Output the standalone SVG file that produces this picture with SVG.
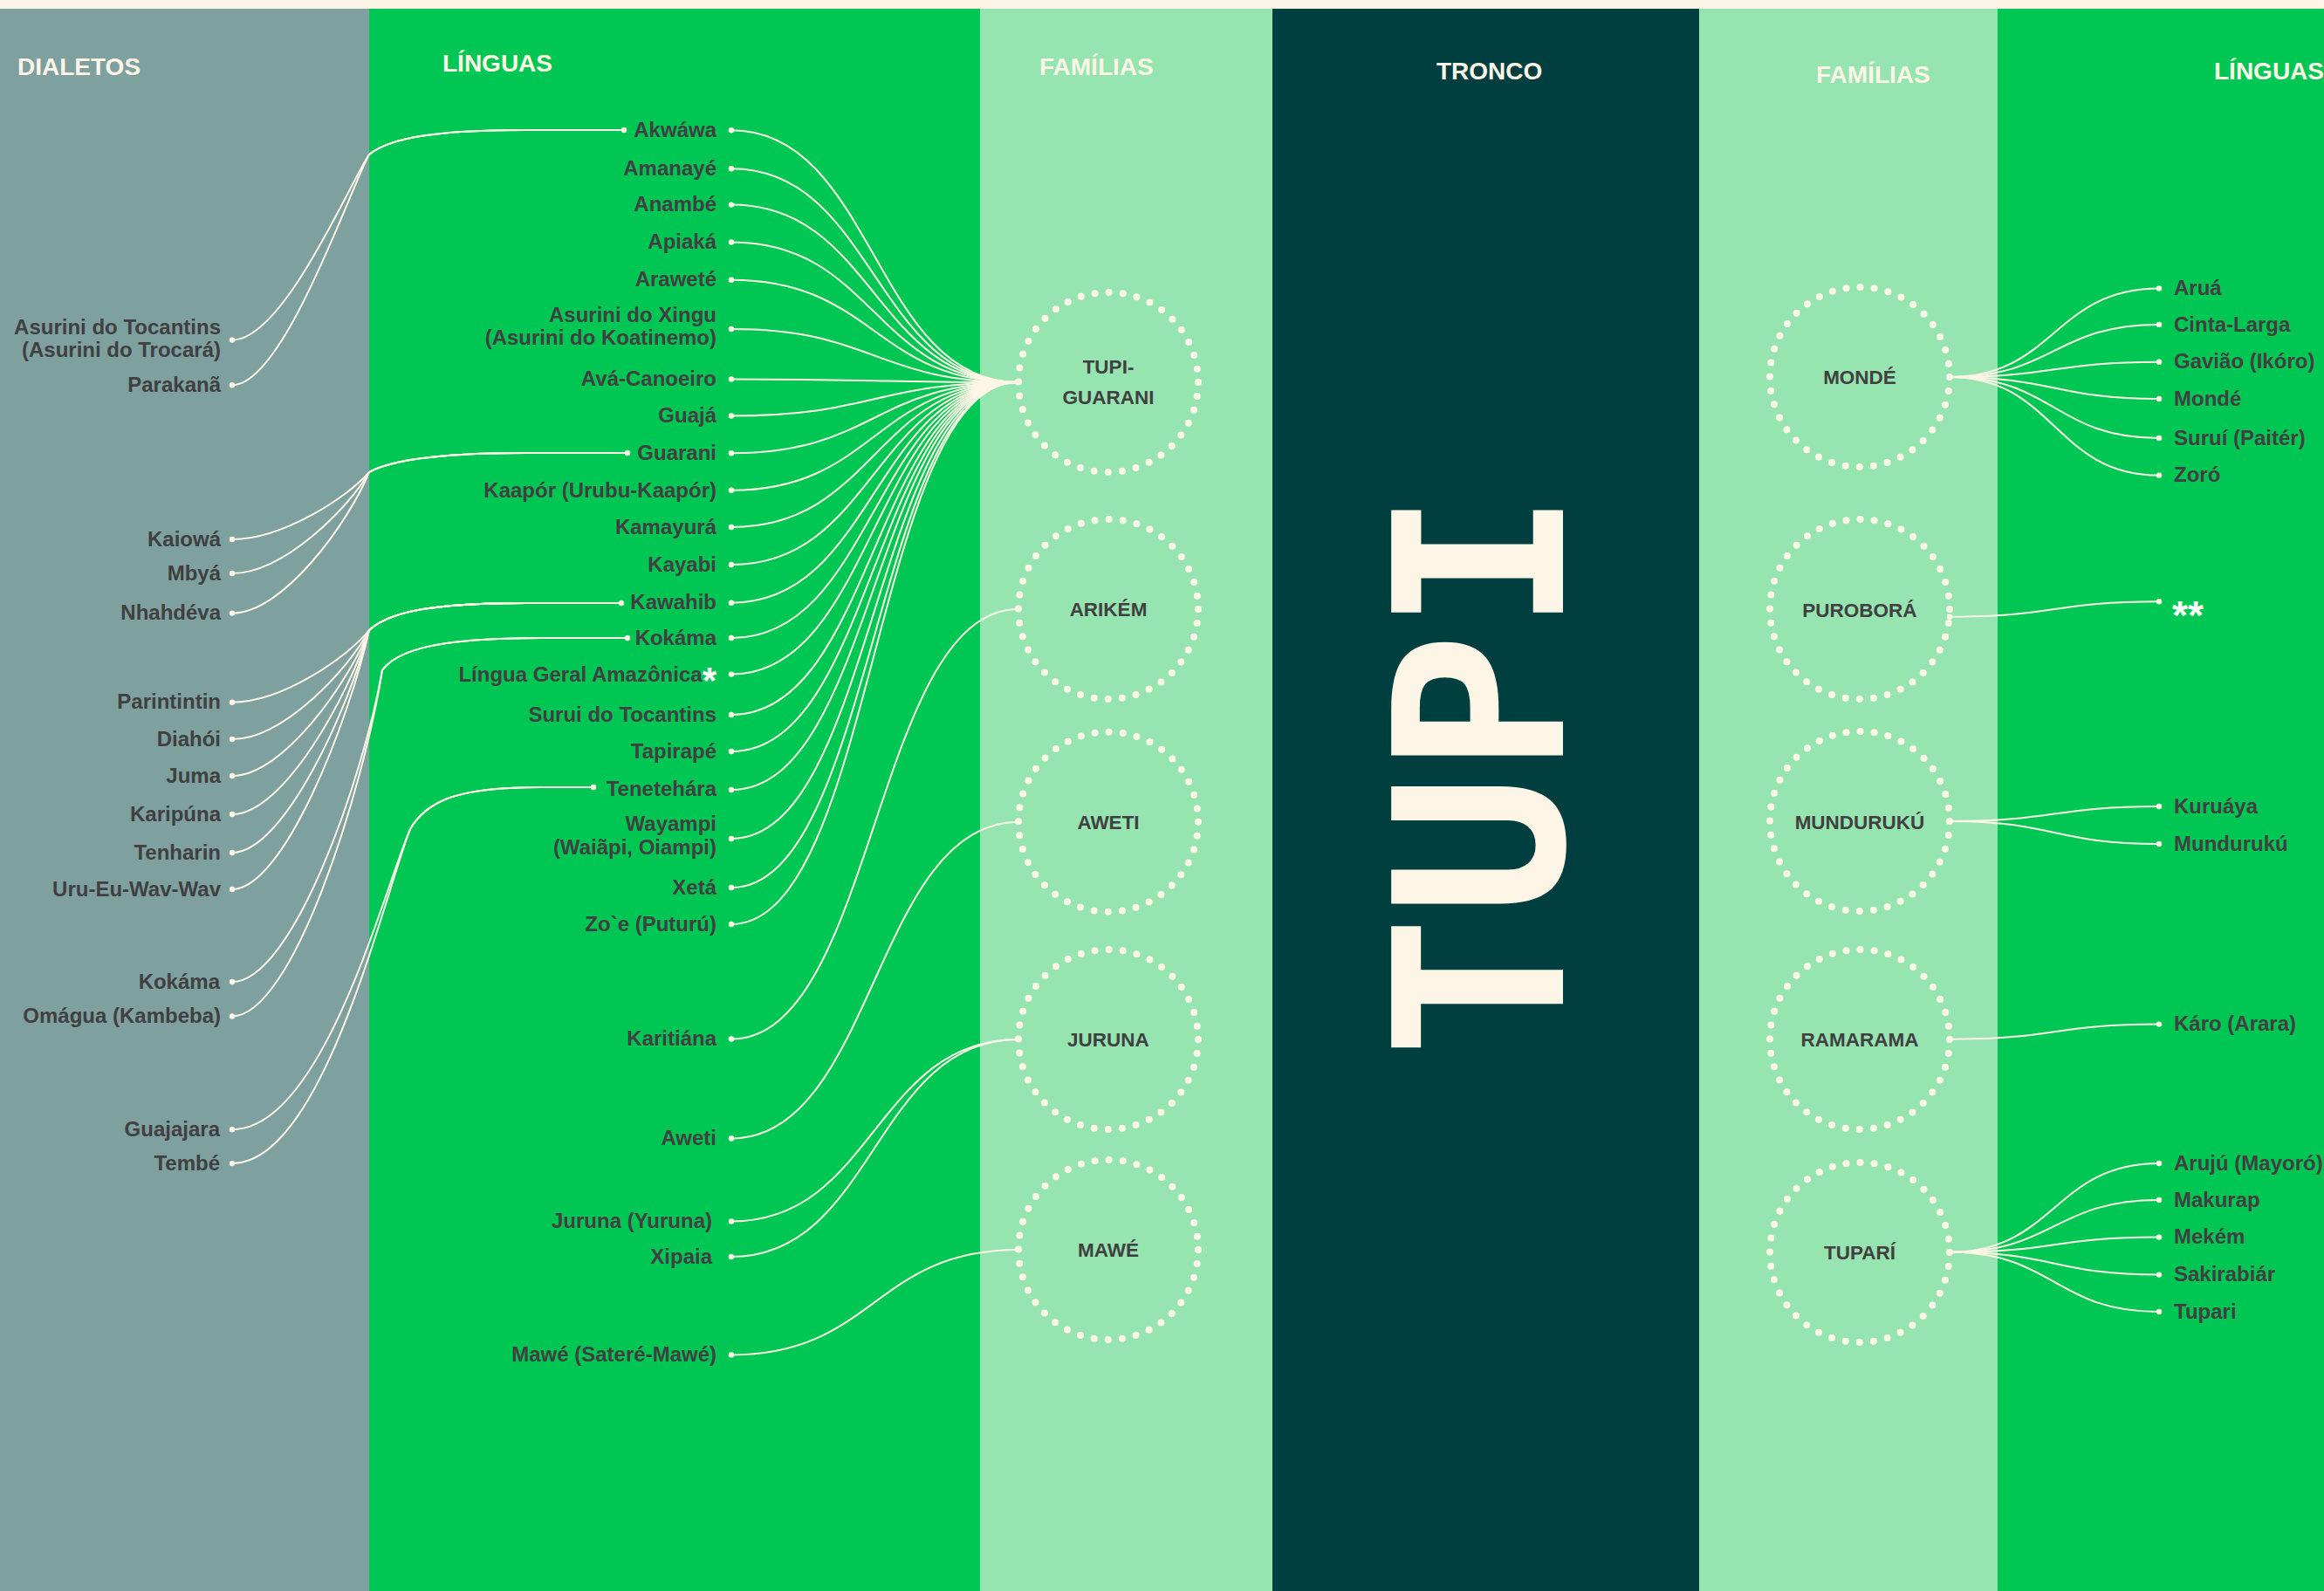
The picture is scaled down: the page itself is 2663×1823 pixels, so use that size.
<svg xmlns="http://www.w3.org/2000/svg" width="2663" height="1823" viewBox="0 0 2663 1823">
<style>
.hdr{font-family:"Liberation Sans",Arial,sans-serif;font-weight:700;font-size:28px;fill:#FDF6E6}
.lbl{font-family:"Liberation Sans",Arial,sans-serif;font-weight:700;font-size:24px;fill:#403F41}
.end{text-anchor:end}
.fam{font-family:"Liberation Sans",Arial,sans-serif;font-weight:700;font-size:22.5px;fill:#403F41;text-anchor:middle}
.ring{fill:none;stroke:#FDF6E6;stroke-width:8;stroke-linecap:round;stroke-dasharray:0 16.18}
.link{fill:none;stroke:#FDF6E6;stroke-width:2}
.dot{fill:#FDF6E6}
.ast{fill:#FFFFFF;font-size:42px}
.ast2{font-family:"Liberation Sans",Arial,sans-serif;font-weight:700;font-size:46px;fill:#FFFFFF}
.title{font-family:"DejaVu Sans Mono",monospace;font-weight:700;font-size:270px;fill:#FDF6E6}
</style>
<defs>
<circle id="d" r="3.2" class="dot"/>
</defs>
<rect x="0" y="0" width="2663" height="1823" fill="#FDF6E6"/>
<rect x="0" y="10" width="423" height="1813" fill="#7EA09E"/>
<rect x="423" y="10" width="700" height="1813" fill="#00C753"/>
<rect x="1123" y="10" width="335" height="1813" fill="#96E4B0"/>
<rect x="1458" y="10" width="489" height="1813" fill="#003F40"/>
<rect x="1947" y="10" width="342" height="1813" fill="#96E4B0"/>
<rect x="2289" y="10" width="374" height="1813" fill="#00C753"/>

<g id="headers">
<text class="hdr" x="20" y="86">DIALETOS</text>
<text class="hdr" x="507" y="81.5">LÍNGUAS</text>
<text class="hdr" x="1191" y="86">FAMÍLIAS</text>
<text class="hdr" x="1646" y="90.6">TRONCO</text>
<text class="hdr" x="2081" y="95">FAMÍLIAS</text>
<text class="hdr" x="2537" y="90.6">LÍNGUAS</text>
</g>

<g id="tronco-tupi">
<text class="title" transform="translate(1791,1212) rotate(-90)" x="0" y="0">TUPI</text>
</g>

<g id="connectors">
<!-- dialects to languages -->
<path class="link" d="M266,389.6 C325,389.6 401,208.8 423,177 C448,157 503,149 603,149 L715,149"/>
<path class="link" d="M266,441.3 C325,441.3 401,216.6 423,177 C448,157 503,149 603,149 L715,149"/>
<path class="link" d="M266,618 C325,618 400,568 423,541 C448,527 503,519 603,519 L719,519"/>
<path class="link" d="M266,657 C325,657 400,581.6 423,541 C448,527 503,519 603,519 L719,519"/>
<path class="link" d="M266,702.6 C325,702.6 400,597.6 423,541 C448,527 503,519 603,519 L719,519"/>
<path class="link" d="M266,804.7 C325,804.7 400,751 423,722 C448,699 503,691 603,691 L712,691"/>
<path class="link" d="M266,847 C325,847 400,765.8 423,722 C448,699 503,691 603,691 L712,691"/>
<path class="link" d="M266,889 C325,889 400,780.5 423,722 C448,699 503,691 603,691 L712,691"/>
<path class="link" d="M266,933 C325,933 400,795.9 423,722 C448,699 503,691 603,691 L712,691"/>
<path class="link" d="M266,977 C325,977 400,811.3 423,722 C448,699 503,691 603,691 L712,691"/>
<path class="link" d="M266,1019 C325,1019 400,826 423,722 C448,699 503,691 603,691 L712,691"/>
<path class="link" d="M266,1125 C335,1125 416,893 438,768 C455,745 500,731 620,731 L719,731"/>
<path class="link" d="M266,1164.5 C335,1164.5 416,906.8 438,768 C455,745 500,731 620,731 L719,731"/>
<path class="link" d="M266,1294.2 C370,1294.2 440,1019 470,950 C490,915 530,902 620,902 L680,902"/>
<path class="link" d="M266,1333.1 C370,1333.1 440,1026.6 470,950 C490,915 530,902 620,902 L680,902"/>
<!-- languages to TUPI-GUARANI -->
<path class="link" d="M838,149.3 C1002,149.3 1002,438 1167,438"/>
<path class="link" d="M838,193.3 C1002,193.3 1002,438 1167,438"/>
<path class="link" d="M838,234.6 C1002,234.6 1002,438 1167,438"/>
<path class="link" d="M838,277.5 C1002,277.5 1002,438 1167,438"/>
<path class="link" d="M838,320.7 C1002,320.7 1002,438 1167,438"/>
<path class="link" d="M838,377 C1002,377 1002,438 1167,438"/>
<path class="link" d="M838,434.4 C1002,434.4 1002,438 1167,438"/>
<path class="link" d="M838,476.5 C1002,476.5 1002,438 1167,438"/>
<path class="link" d="M838,519.3 C1002,519.3 1002,438 1167,438"/>
<path class="link" d="M838,561.8 C1002,561.8 1002,438 1167,438"/>
<path class="link" d="M838,604 C1002,604 1002,438 1167,438"/>
<path class="link" d="M838,647 C1002,647 1002,438 1167,438"/>
<path class="link" d="M838,690.7 C1002,690.7 1002,438 1167,438"/>
<path class="link" d="M838,731 C1002,731 1002,438 1167,438"/>
<path class="link" d="M838,772.6 C1002,772.6 1002,438 1167,438"/>
<path class="link" d="M838,819 C1002,819 1002,438 1167,438"/>
<path class="link" d="M838,861 C1002,861 1002,438 1167,438"/>
<path class="link" d="M838,905 C1002,905 1002,438 1167,438"/>
<path class="link" d="M838,961 C1002,961 1002,438 1167,438"/>
<path class="link" d="M838,1017 C1002,1017 1002,438 1167,438"/>
<path class="link" d="M838,1059 C1002,1059 1002,438 1167,438"/>
<!-- other left families -->
<path class="link" d="M838,1190.5 C1002,1190.5 1002,698 1167,698"/>
<path class="link" d="M838,1304.5 C1002,1304.5 1002,941.7 1167,941.7"/>
<path class="link" d="M838,1399.4 C1002,1399.4 1002,1191 1167,1191"/>
<path class="link" d="M838,1440 C1002,1440 1002,1191 1167,1191"/>
<path class="link" d="M838,1552.4 C1002,1552.4 1002,1432 1167,1432"/>
<!-- right families to languages -->
<path class="link" d="M2234,432 C2354,432 2354,330.4 2474,330.4"/>
<path class="link" d="M2234,432 C2354,432 2354,371.9 2474,371.9"/>
<path class="link" d="M2234,432 C2354,432 2354,414.7 2474,414.7"/>
<path class="link" d="M2234,432 C2354,432 2354,457 2474,457"/>
<path class="link" d="M2234,432 C2354,432 2354,502 2474,502"/>
<path class="link" d="M2234,432 C2354,432 2354,544.6 2474,544.6"/>
<path class="link" d="M2234,706.7 C2354,706.7 2354,689.3 2474,689.3"/>
<path class="link" d="M2234,941 C2354,941 2354,924 2474,924"/>
<path class="link" d="M2234,941 C2354,941 2354,967 2474,967"/>
<path class="link" d="M2234,1190.8 C2354,1190.8 2354,1173.6 2474,1173.6"/>
<path class="link" d="M2234,1434.8 C2354,1434.8 2354,1333 2474,1333"/>
<path class="link" d="M2234,1434.8 C2354,1434.8 2354,1375 2474,1375"/>
<path class="link" d="M2234,1434.8 C2354,1434.8 2354,1417.6 2474,1417.6"/>
<path class="link" d="M2234,1434.8 C2354,1434.8 2354,1460.6 2474,1460.6"/>
<path class="link" d="M2234,1434.8 C2354,1434.8 2354,1503 2474,1503"/>
</g>

<!-- Dialects -->
<g id="dialetos">
<g id="d-asurini-tocantins"><text class="lbl end" x="253" y="382.7">Asurini do Tocantins</text><text class="lbl end" x="253" y="409">(Asurini do Trocará)</text><use href="#d" x="266" y="389.6"/></g>
<g id="d-parakana"><text class="lbl end" x="253" y="449">Parakanã</text><use href="#d" x="266" y="441.3"/></g>
<g id="d-kaiowa"><text class="lbl end" x="253" y="625.5">Kaiowá</text><use href="#d" x="266" y="618"/></g>
<g id="d-mbya"><text class="lbl end" x="253" y="664.5">Mbyá</text><use href="#d" x="266" y="657"/></g>
<g id="d-nhahdeva"><text class="lbl end" x="253" y="710">Nhahdéva</text><use href="#d" x="266" y="702.6"/></g>
<g id="d-parintintin"><text class="lbl end" x="253" y="812">Parintintin</text><use href="#d" x="266" y="804.7"/></g>
<g id="d-diahoi"><text class="lbl end" x="253" y="854.5">Diahói</text><use href="#d" x="266" y="847"/></g>
<g id="d-juma"><text class="lbl end" x="253" y="896.5">Juma</text><use href="#d" x="266" y="889"/></g>
<g id="d-karipuna"><text class="lbl end" x="253" y="940.5">Karipúna</text><use href="#d" x="266" y="933"/></g>
<g id="d-tenharin"><text class="lbl end" x="253" y="984.5">Tenharin</text><use href="#d" x="266" y="977"/></g>
<g id="d-uru"><text class="lbl end" x="253" y="1026.5">Uru-Eu-Wav-Wav</text><use href="#d" x="266" y="1019"/></g>
<g id="d-kokama"><text class="lbl end" x="252" y="1132.5">Kokáma</text><use href="#d" x="266" y="1125"/></g>
<g id="d-omagua"><text class="lbl end" x="253" y="1172">Omágua (Kambeba)</text><use href="#d" x="266" y="1164.5"/></g>
<g id="d-guajajara"><text class="lbl end" x="252" y="1301.7">Guajajara</text><use href="#d" x="266" y="1294.2"/></g>
<g id="d-tembe"><text class="lbl end" x="252" y="1340.6">Tembé</text><use href="#d" x="266" y="1333.1"/></g>
</g>

<!-- Left languages -->
<g id="linguas-esq">
<g id="l-akwawa"><text class="lbl end" x="821" y="157">Akwáwa</text><use href="#d" x="715" y="149"/><use href="#d" x="838" y="149.3"/></g>
<g id="l-amanaye"><text class="lbl end" x="821" y="201">Amanayé</text><use href="#d" x="838" y="193.3"/></g>
<g id="l-anambe"><text class="lbl end" x="821" y="242">Anambé</text><use href="#d" x="838" y="234.6"/></g>
<g id="l-apiaka"><text class="lbl end" x="821" y="285">Apiaká</text><use href="#d" x="838" y="277.5"/></g>
<g id="l-arawete"><text class="lbl end" x="821" y="328">Araweté</text><use href="#d" x="838" y="320.7"/></g>
<g id="l-asurini-xingu"><text class="lbl end" x="821" y="369">Asurini do Xingu</text><text class="lbl end" x="821" y="395">(Asurini do Koatinemo)</text><use href="#d" x="838" y="377"/></g>
<g id="l-ava"><text class="lbl end" x="821" y="442">Avá-Canoeiro</text><use href="#d" x="838" y="434.4"/></g>
<g id="l-guaja"><text class="lbl end" x="821" y="484">Guajá</text><use href="#d" x="838" y="476.5"/></g>
<g id="l-guarani"><text class="lbl end" x="821" y="527">Guarani</text><use href="#d" x="719" y="519"/><use href="#d" x="838" y="519.3"/></g>
<g id="l-kaapor"><text class="lbl end" x="821" y="569.5">Kaapór (Urubu-Kaapór)</text><use href="#d" x="838" y="561.8"/></g>
<g id="l-kamayura"><text class="lbl end" x="821" y="611.5">Kamayurá</text><use href="#d" x="838" y="604"/></g>
<g id="l-kayabi"><text class="lbl end" x="821" y="654.5">Kayabi</text><use href="#d" x="838" y="647"/></g>
<g id="l-kawahib"><text class="lbl end" x="821" y="698">Kawahib</text><use href="#d" x="712" y="691"/><use href="#d" x="838" y="690.7"/></g>
<g id="l-kokama"><text class="lbl end" x="821" y="738.5">Kokáma</text><use href="#d" x="719" y="731"/><use href="#d" x="838" y="731"/></g>
<g id="l-lingua-geral"><text class="lbl end" x="821" y="780.5">Língua Geral Amazônica<tspan class="ast" dy="13">*</tspan></text><use href="#d" x="838" y="772.6"/></g>
<g id="l-surui-tocantins"><text class="lbl end" x="821" y="826.5">Surui do Tocantins</text><use href="#d" x="838" y="819"/></g>
<g id="l-tapirape"><text class="lbl end" x="821" y="868.5">Tapirapé</text><use href="#d" x="838" y="861"/></g>
<g id="l-tenetehara"><text class="lbl end" x="821" y="912">Tenetehára</text><use href="#d" x="680" y="902"/><use href="#d" x="838" y="905"/></g>
<g id="l-wayampi"><text class="lbl end" x="821" y="952">Wayampi</text><text class="lbl end" x="821" y="979">(Waiãpi, Oiampi)</text><use href="#d" x="838" y="961"/></g>
<g id="l-xeta"><text class="lbl end" x="821" y="1024.5">Xetá</text><use href="#d" x="838" y="1017"/></g>
<g id="l-zoe"><text class="lbl end" x="821" y="1066.5">Zo`e (Puturú)</text><use href="#d" x="838" y="1059"/></g>
<g id="l-karitiana"><text class="lbl end" x="821" y="1198">Karitiána</text><use href="#d" x="838" y="1190.5"/></g>
<g id="l-aweti"><text class="lbl end" x="821" y="1312">Aweti</text><use href="#d" x="838" y="1304.5"/></g>
<g id="l-juruna"><text class="lbl end" x="816" y="1407">Juruna (Yuruna)</text><use href="#d" x="838" y="1399.4"/></g>
<g id="l-xipaia"><text class="lbl end" x="816" y="1447.5">Xipaia</text><use href="#d" x="838" y="1440"/></g>
<g id="l-mawe"><text class="lbl end" x="821" y="1560">Mawé (Sateré-Mawé)</text><use href="#d" x="838" y="1552.4"/></g>
</g>

<!-- Left families -->
<g id="familias-esq">
<g id="f-tupi-guarani"><circle class="ring" cx="1270" cy="438" r="103"/><text class="fam" x="1270" y="428">TUPI-</text><text class="fam" x="1270" y="463">GUARANI</text></g>
<g id="f-arikem"><circle class="ring" cx="1270" cy="698" r="103"/><text class="fam" x="1270" y="706">ARIKÉM</text></g>
<g id="f-aweti"><circle class="ring" cx="1270" cy="941.7" r="103"/><text class="fam" x="1270" y="949.7">AWETI</text></g>
<g id="f-juruna"><circle class="ring" cx="1270" cy="1191" r="103"/><text class="fam" x="1270" y="1199">JURUNA</text></g>
<g id="f-mawe"><circle class="ring" cx="1270" cy="1432" r="103"/><text class="fam" x="1270" y="1440">MAWÉ</text></g>
</g>

<!-- Right families -->
<g id="familias-dir">
<g id="f-monde"><circle class="ring" cx="2131" cy="432" r="103"/><text class="fam" x="2131" y="440">MONDÉ</text></g>
<g id="f-purobora"><circle class="ring" cx="2131" cy="698" r="103"/><text class="fam" x="2131" y="706.7">PUROBORÁ</text><use href="#d" x="2234" y="706.7"/></g>
<g id="f-munduruku"><circle class="ring" cx="2131" cy="941" r="103"/><text class="fam" x="2131" y="949.5">MUNDURUKÚ</text></g>
<g id="f-ramarama"><circle class="ring" cx="2131" cy="1191" r="103"/><text class="fam" x="2131" y="1199">RAMARAMA</text></g>
<g id="f-tupari"><circle class="ring" cx="2131" cy="1435" r="103"/><text class="fam" x="2131" y="1443">TUPARÍ</text></g>
</g>

<!-- Right languages -->
<g id="linguas-dir">
<g id="r-arua"><use href="#d" x="2474" y="330.4"/><text class="lbl" x="2491" y="338">Aruá</text></g>
<g id="r-cinta-larga"><use href="#d" x="2474" y="371.9"/><text class="lbl" x="2491" y="379.5">Cinta-Larga</text></g>
<g id="r-gaviao"><use href="#d" x="2474" y="414.7"/><text class="lbl" x="2491" y="422.3">Gavião (Ikóro)</text></g>
<g id="r-monde"><use href="#d" x="2474" y="457"/><text class="lbl" x="2491" y="464.6">Mondé</text></g>
<g id="r-surui"><use href="#d" x="2474" y="502"/><text class="lbl" x="2491" y="509.6">Suruí (Paitér)</text></g>
<g id="r-zoro"><use href="#d" x="2474" y="544.6"/><text class="lbl" x="2491" y="552.2">Zoró</text></g>
<g id="r-purobora"><use href="#d" x="2474" y="689.3"/><text class="ast2" x="2489" y="721">**</text></g>
<g id="r-kuruaya"><use href="#d" x="2474" y="924"/><text class="lbl" x="2491" y="931.6">Kuruáya</text></g>
<g id="r-munduruku"><use href="#d" x="2474" y="967"/><text class="lbl" x="2491" y="974.6">Mundurukú</text></g>
<g id="r-karo"><use href="#d" x="2474" y="1173.6"/><text class="lbl" x="2491" y="1181.2">Káro (Arara)</text></g>
<g id="r-aruju"><use href="#d" x="2474" y="1333"/><text class="lbl" x="2491" y="1340.6">Arujú (Mayoró)</text></g>
<g id="r-makurap"><use href="#d" x="2474" y="1375"/><text class="lbl" x="2491" y="1382.6">Makurap</text></g>
<g id="r-mekem"><use href="#d" x="2474" y="1417.6"/><text class="lbl" x="2491" y="1425.2">Mekém</text></g>
<g id="r-sakirabiar"><use href="#d" x="2474" y="1460.6"/><text class="lbl" x="2491" y="1468.2">Sakirabiár</text></g>
<g id="r-tupari"><use href="#d" x="2474" y="1503"/><text class="lbl" x="2491" y="1510.6">Tupari</text></g>
</g>
</svg>
